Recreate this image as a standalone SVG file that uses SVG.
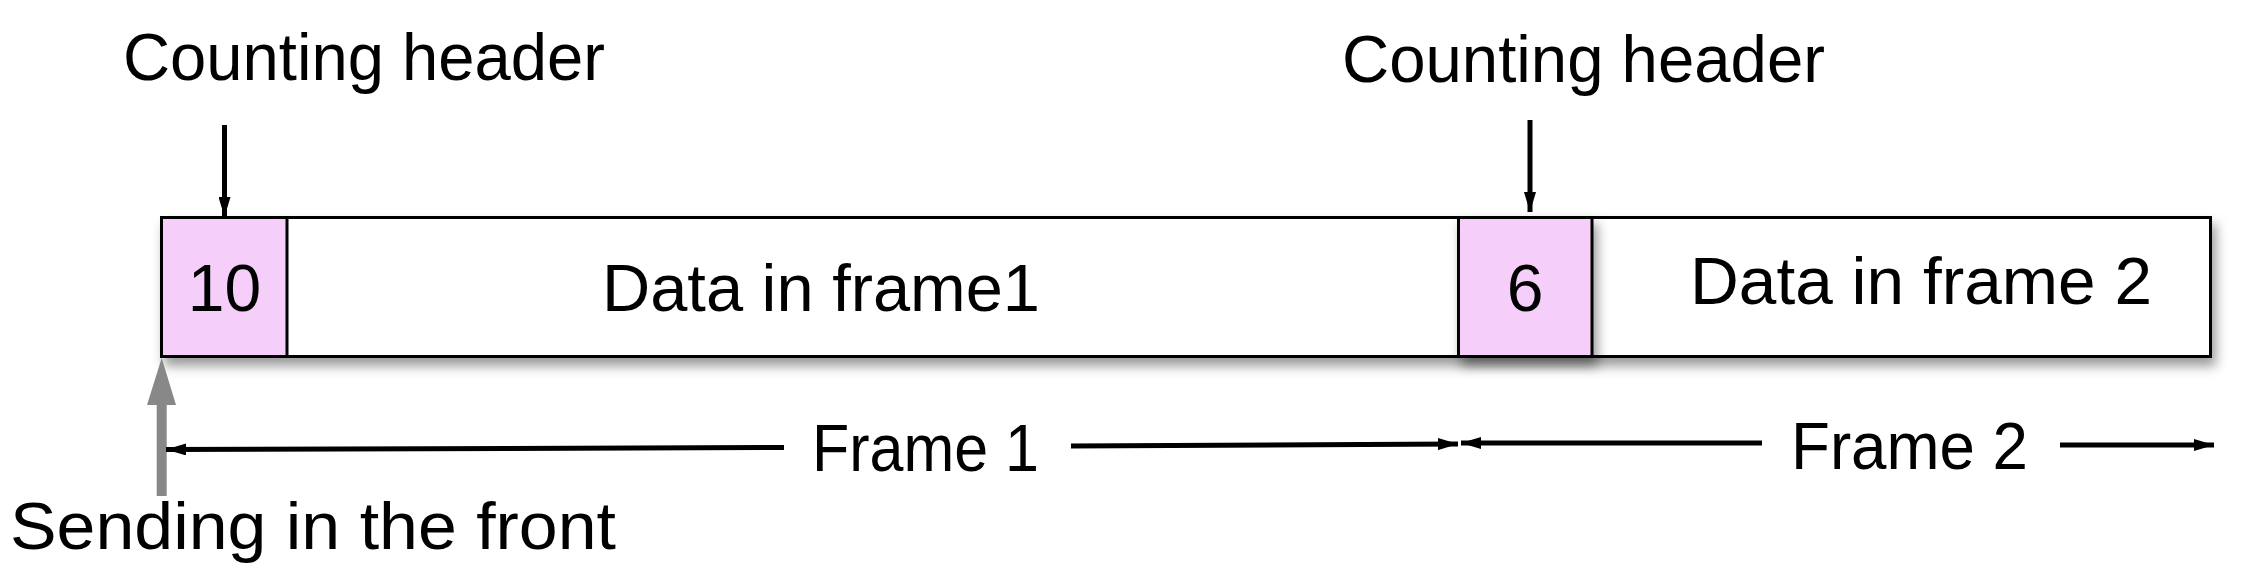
<svg xmlns="http://www.w3.org/2000/svg" width="2242" height="574" viewBox="0 0 2242 574">
<style>
.lbl{font-family:"Liberation Sans","DejaVu Sans",sans-serif;font-size:66px;fill:#000}
.cell{stroke:#000;stroke-width:3}
.hdr{fill:#f5cefa}
.dat{fill:#fff}
.blk{stroke:#000;fill:none;stroke-width:5}
</style>
<defs>
<filter id="sh" x="-10%" y="-30%" width="130%" height="180%">
<feDropShadow dx="4" dy="8" stdDeviation="6" flood-color="#000" flood-opacity="0.4"/>
</filter>
<marker id="ah" viewBox="0 0 20 12" refX="20" refY="6" markerWidth="20" markerHeight="12" markerUnits="userSpaceOnUse" orient="auto">
<path d="M0,0 L20,6 L0,12 Z" fill="#000"/>
</marker>
</defs>
<g id="frame-bar" filter="url(#sh)">
<rect class="cell dat" x="161.5" y="217.5" width="2049" height="139"/>
</g>
<g id="header1">
<rect class="cell hdr" x="161.5" y="217.5" width="125.5" height="139"/>
<text class="lbl" x="224.5" y="311" text-anchor="middle">10</text>
</g>
<g id="data1">
<text class="lbl" x="602" y="311" textLength="438" lengthAdjust="spacingAndGlyphs">Data in frame1</text>
</g>
<g id="header2" filter="url(#sh)">
<rect class="cell hdr" x="1458.5" y="217.5" width="133.5" height="139"/>
</g>
<g id="header2-text">
<text class="lbl" x="1525" y="311" text-anchor="middle">6</text>
</g>
<g id="data2">
<text class="lbl" x="1690" y="304" textLength="462" lengthAdjust="spacingAndGlyphs">Data in frame 2</text>
</g>
<g id="label-counting1">
<text class="lbl" x="123" y="80" textLength="482" lengthAdjust="spacingAndGlyphs">Counting header</text>
</g>
<g id="label-counting2">
<text class="lbl" x="1342" y="82" textLength="483" lengthAdjust="spacingAndGlyphs">Counting header</text>
</g>
<g id="label-sending">
<text class="lbl" x="10" y="549" textLength="606" lengthAdjust="spacingAndGlyphs">Sending in the front</text>
</g>
<g id="label-frame1">
<text class="lbl" x="812" y="471" textLength="227" lengthAdjust="spacingAndGlyphs">Frame 1</text>
</g>
<g id="label-frame2">
<text class="lbl" x="1791" y="469" textLength="237" lengthAdjust="spacingAndGlyphs">Frame 2</text>
</g>
<g id="connectors">
<line class="blk" x1="224.5" y1="125" x2="224.5" y2="217" marker-end="url(#ah)"/>
<line class="blk" x1="1530" y1="120" x2="1530" y2="212" marker-end="url(#ah)"/>
<line x1="161.7" y1="496" x2="161.7" y2="400" stroke="#888" stroke-width="10"/>
<path d="M161.7,358 L176,405 L147,405 Z" fill="#888"/>
<line class="blk" x1="784" y1="447.5" x2="166" y2="449.5" marker-end="url(#ah)"/>
<line class="blk" x1="1071" y1="446" x2="1458" y2="444" marker-end="url(#ah)"/>
<line class="blk" x1="1762" y1="443" x2="1461" y2="443" marker-end="url(#ah)"/>
<line class="blk" x1="2060" y1="445" x2="2214" y2="445" marker-end="url(#ah)"/>
</g>
</svg>
